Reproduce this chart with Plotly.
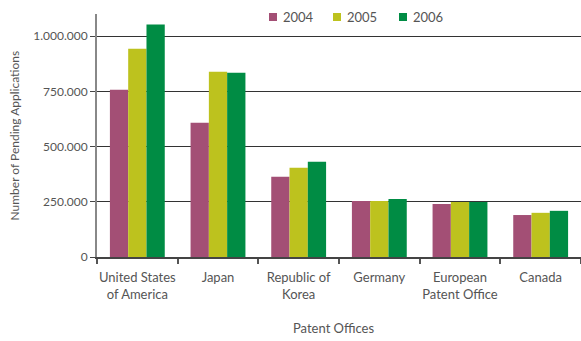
import plotly.graph_objects as go

# Pending patent applications by office, 2004-2006
offices = ["United States<br>of America", "Japan", "Republic of<br>Korea",
           "Germany", "European<br>Patent Office", "Canada"]
years = ["2004", "2005", "2006"]
pending_2004 = [757000, 608000, 363000, 254000, 240000, 190000]
pending_2005 = [943000, 839000, 404000, 254000, 249000, 200000]
pending_2006 = [1052000, 834000, 431000, 263000, 249000, 209000]
y_ticks = [0, 250000, 500000, 750000, 1000000]

colors = ["#a34f75", "#bdc21e", "#008c44"]
series = [pending_2004, pending_2005, pending_2006]

FONT = "Lato, 'Open Sans', sans-serif"
TEXT = "#555555"

fig = go.Figure()
for name, vals, col in zip(years, series, colors):
    fig.add_trace(go.Bar(x=offices, y=vals, name=name, marker_color=col,
                         marker_line_width=0, showlegend=False))

# Compact legend row above the plot: small swatch + year label
W, H = 581, 341
L, R, T, B = 97, 0, 14, 84
pw, ph = W - L - R, H - T - B

def px_x(x):
    return (x - L) / pw

def px_y(y):
    return (H - B - y) / ph

legend_left = [269, 333, 399]
shapes, annotations = [], []
for x0, name, col in zip(legend_left, years, colors):
    shapes.append(dict(type="rect", xref="paper", yref="paper",
                       x0=px_x(x0), x1=px_x(x0 + 8), y0=px_y(21), y1=px_y(13),
                       fillcolor=col, line=dict(width=0)))
    annotations.append(dict(text=name, xref="paper", yref="paper",
                            x=px_x(x0 + 12), y=px_y(17), xanchor="left",
                            yanchor="middle", showarrow=False,
                            font=dict(size=13, color=TEXT)))

annotations += [
    dict(text="Number of Pending Applications", textangle=-90,
         xref="paper", yref="paper", x=px_x(14), y=0.5,
         xanchor="center", yanchor="middle", showarrow=False,
         font=dict(size=12, color=TEXT)),
    dict(text="Patent Offices", xref="paper", yref="paper",
         x=px_x(333), y=px_y(328), xanchor="center", yanchor="middle",
         showarrow=False, font=dict(size=13, color=TEXT)),
]

fig.update_layout(
    width=W, height=H,
    margin=dict(l=L, r=R, t=T, b=B),
    paper_bgcolor="white", plot_bgcolor="white",
    barmode="group", bargap=0.32, bargroupgap=0,
    separators=",.",
    font=dict(family=FONT, size=12, color=TEXT),
    xaxis=dict(showline=True, linecolor="#444444", linewidth=1.5,
               ticks="outside", tickson="boundaries", ticklen=5,
               tickcolor="#555555", tickwidth=1.5, ticklabelstandoff=8,
               tickangle=0,
               tickfont=dict(size=13, color=TEXT), showgrid=False),
    yaxis=dict(range=[0, 1100000], tickvals=y_ticks, tickformat=",d",
               showline=True, linecolor="#888888", linewidth=2,
               ticks="outside", ticklen=5, tickcolor="#444444",
               showgrid=True, gridcolor="#333333", gridwidth=1,
               zeroline=False, tickfont=dict(size=12, color=TEXT)),
    shapes=shapes,
    annotations=annotations,
)

fig.write_html("out.html")
